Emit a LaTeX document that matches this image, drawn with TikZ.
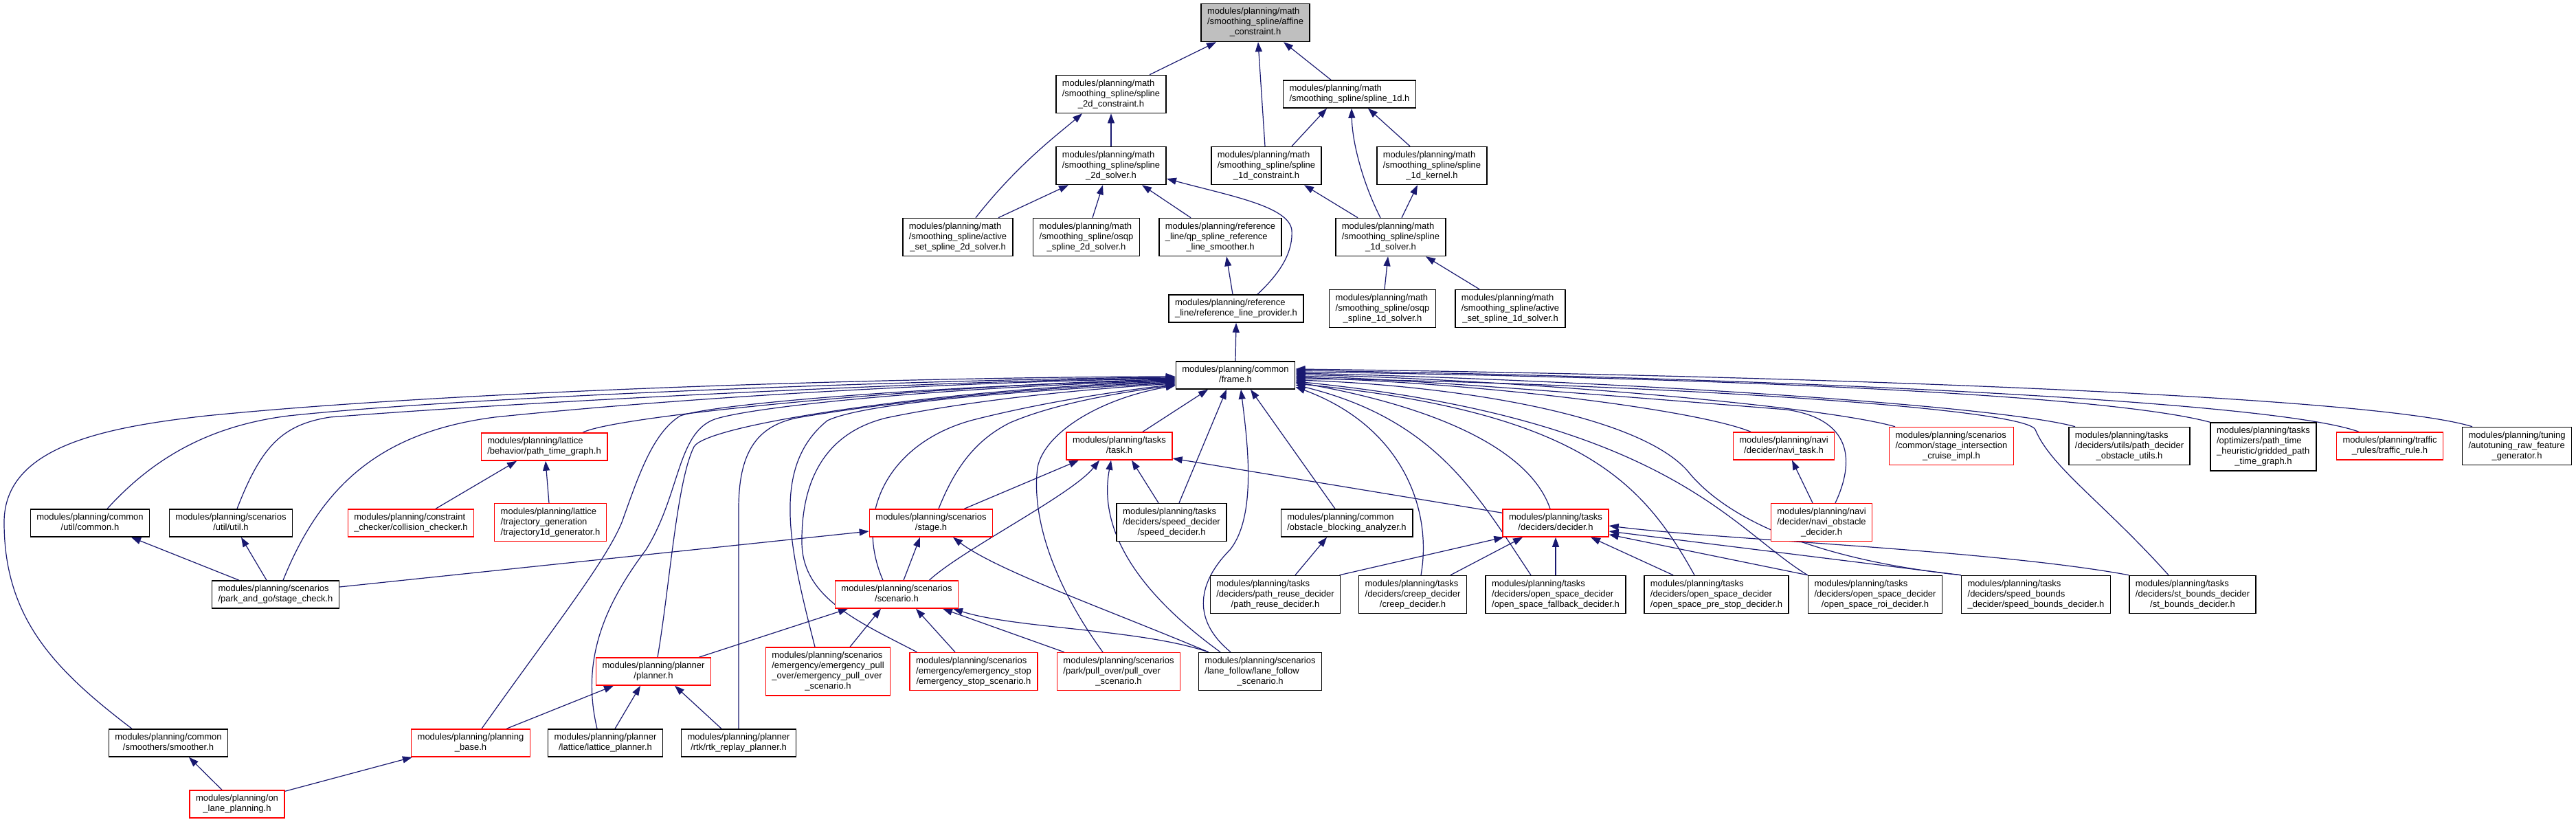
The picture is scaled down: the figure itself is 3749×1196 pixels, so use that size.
\documentclass[tikz,border=0pt]{standalone}
\usepackage{fontspec}
\setmainfont{Liberation Sans}
\usetikzlibrary{arrows.meta,calc}
\definecolor{edgeblue}{RGB}{25,25,112}
\definecolor{affgray}{RGB}{191,191,191}
\definecolor{nodered}{RGB}{255,0,0}
\newcommand{\dlabel}[2]{\begin{tabular}{@{}l@{}}#1\\\multicolumn{1}{@{}c@{}}{#2}\end{tabular}}
\pgfdeclarelayer{background}
\pgfsetlayers{background,main}
\tikzset{
  dbox/.style={draw=black, line width=1.5pt, fill=white, rectangle, inner xsep=9pt, inner ysep=5pt, font=\fontsize{13}{15}\selectfont, text=black},
  rbox/.style={dbox, draw=nodered},
  dep/.style={draw=edgeblue, line width=1.2pt, -{Triangle[length=14pt,width=10pt]}}
}
\begin{document}
\begin{tikzpicture}[x=1pt,y=-1pt]
\useasboundingbox (0,0) rectangle (3749,1196);
% nodes
\node[dbox,fill=affgray] (aff) at (1827,33) {\dlabel{modules/planning/math\\/smoothing\_spline/affine}{\_constraint.h}};
\node[dbox] (c2d) at (1617,137) {\dlabel{modules/planning/math\\/smoothing\_spline/spline}{\_2d\_constraint.h}};
\node[dbox] (s1d) at (1964,137) {\dlabel{modules/planning/math}{/smoothing\_spline/spline\_1d.h}};
\node[dbox] (s2d) at (1617,241) {\dlabel{modules/planning/math\\/smoothing\_spline/spline}{\_2d\_solver.h}};
\node[dbox] (c1d) at (1843,241) {\dlabel{modules/planning/math\\/smoothing\_spline/spline}{\_1d\_constraint.h}};
\node[dbox] (k1d) at (2084,241) {\dlabel{modules/planning/math\\/smoothing\_spline/spline}{\_1d\_kernel.h}};
\node[dbox] (as2d) at (1394,345) {\dlabel{modules/planning/math\\/smoothing\_spline/active}{\_set\_spline\_2d\_solver.h}};
\node[dbox] (os2d) at (1581,345) {\dlabel{modules/planning/math\\/smoothing\_spline/osqp}{\_spline\_2d\_solver.h}};
\node[dbox] (qpr) at (1776,345) {\dlabel{modules/planning/reference\\\_line/qp\_spline\_reference}{\_line\_smoother.h}};
\node[dbox] (sol1d) at (2024,345) {\dlabel{modules/planning/math\\/smoothing\_spline/spline}{\_1d\_solver.h}};
\node[dbox] (rlp) at (1799,449) {\dlabel{modules/planning/reference}{\_line/reference\_line\_provider.h}};
\node[dbox] (os1d) at (2012,449) {\dlabel{modules/planning/math\\/smoothing\_spline/osqp}{\_spline\_1d\_solver.h}};
\node[dbox] (as1d) at (2198,449) {\dlabel{modules/planning/math\\/smoothing\_spline/active}{\_set\_spline\_1d\_solver.h}};
\node[dbox] (frame) at (1798,546) {\dlabel{modules/planning/common}{/frame.h}};
% row 649
\node[rbox] (ptg) at (792,650) {\dlabel{modules/planning/lattice}{/behavior/path\_time\_graph.h}};
\node[rbox] (task) at (1629,649) {\dlabel{modules/planning/tasks}{/task.h}};
\node[rbox] (navt) at (2596,649) {\dlabel{modules/planning/navi}{/decider/navi\_task.h}};
\node[rbox] (sic) at (2840,649) {\dlabel{modules/planning/scenarios\\/common/stage\_intersection}{\_cruise\_impl.h}};
\node[dbox] (pdo) at (3099,649) {\dlabel{modules/planning/tasks\\/deciders/utils/path\_decider}{\_obstacle\_utils.h}};
\node[dbox] (grid) at (3294,650) {\dlabel{modules/planning/tasks\\/optimizers/path\_time\\\_heuristic/gridded\_path}{\_time\_graph.h}};
\node[rbox] (trr) at (3478,649) {\dlabel{modules/planning/traffic}{\_rules/traffic\_rule.h}};
\node[dbox] (atun) at (3663,649) {\dlabel{modules/planning/tuning\\/autotuning\_raw\_feature}{\_generator.h}};
% row 761
\node[dbox] (cmn) at (131,761) {\dlabel{modules/planning/common}{/util/common.h}};
\node[dbox] (utl) at (336,761) {\dlabel{modules/planning/scenarios}{/util/util.h}};
\node[rbox] (cc) at (598,761) {\dlabel{modules/planning/constraint}{\_checker/collision\_checker.h}};
\node[rbox] (t1d) at (801,760) {\dlabel{modules/planning/lattice\\/trajectory\_generation}{/trajectory1d\_generator.h}};
\node[rbox] (stg) at (1355,761) {\dlabel{modules/planning/scenarios}{/stage.h}};
\node[dbox] (spd) at (1705,760) {\dlabel{modules/planning/tasks\\/deciders/speed\_decider}{/speed\_decider.h}};
\node[dbox] (oba) at (1960,761) {\dlabel{modules/planning/common}{/obstacle\_blocking\_analyzer.h}};
\node[rbox] (dec) at (2264,761) {\dlabel{modules/planning/tasks}{/deciders/decider.h}};
\node[rbox] (navo) at (2651,760) {\dlabel{modules/planning/navi\\/decider/navi\_obstacle}{\_decider.h}};
% row 865
\node[dbox] (stc) at (401,865) {\dlabel{modules/planning/scenarios}{/park\_and\_go/stage\_check.h}};
\node[rbox] (scn) at (1305,865) {\dlabel{modules/planning/scenarios}{/scenario.h}};
\node[dbox] (pru) at (1856,865) {\dlabel{modules/planning/tasks\\/deciders/path\_reuse\_decider}{/path\_reuse\_decider.h}};
\node[dbox] (crp) at (2056,865) {\dlabel{modules/planning/tasks\\/deciders/creep\_decider}{/creep\_decider.h}};
\node[dbox] (osf) at (2264,865) {\dlabel{modules/planning/tasks\\/deciders/open\_space\_decider}{/open\_space\_fallback\_decider.h}};
\node[dbox] (osp) at (2498,865) {\dlabel{modules/planning/tasks\\/deciders/open\_space\_decider}{/open\_space\_pre\_stop\_decider.h}};
\node[dbox] (osr) at (2729,865) {\dlabel{modules/planning/tasks\\/deciders/open\_space\_decider}{/open\_space\_roi\_decider.h}};
\node[dbox] (sbd) at (2963,865) {\dlabel{modules/planning/tasks\\/deciders/speed\_bounds}{\_decider/speed\_bounds\_decider.h}};
\node[dbox] (stb) at (3191,865) {\dlabel{modules/planning/tasks\\/deciders/st\_bounds\_decider}{/st\_bounds\_decider.h}};
% row 977
\node[rbox] (pln) at (951,977) {\dlabel{modules/planning/planner}{/planner.h}};
\node[rbox] (epo) at (1205,977) {\dlabel{modules/planning/scenarios\\/emergency/emergency\_pull\\\_over/emergency\_pull\_over}{\_scenario.h}};
\node[rbox] (est) at (1417,977) {\dlabel{modules/planning/scenarios\\/emergency/emergency\_stop}{/emergency\_stop\_scenario.h}};
\node[rbox] (pov) at (1628,977) {\dlabel{modules/planning/scenarios\\/park/pull\_over/pull\_over}{\_scenario.h}};
\node[dbox] (lf) at (1834,977) {\dlabel{modules/planning/scenarios\\/lane\_follow/lane\_follow}{\_scenario.h}};
% row 1081
\node[dbox] (smo) at (245,1081) {\dlabel{modules/planning/common}{/smoothers/smoother.h}};
\node[rbox] (pb) at (685,1081) {\dlabel{modules/planning/planning}{\_base.h}};
\node[dbox] (lp) at (881,1081) {\dlabel{modules/planning/planner}{/lattice/lattice\_planner.h}};
\node[dbox] (rtk) at (1075,1081) {\dlabel{modules/planning/planner}{/rtk/rtk\_replay\_planner.h}};
\node[rbox] (olp) at (345,1170) {\dlabel{modules/planning/on}{\_lane\_planning.h}};

\begin{pgfonlayer}{background}
\fill[white] (0,0) rectangle (3749,1196);
% affine
\draw[dep] ($(c2d.north)+(56,0)$) -- ($(aff.south)+(-57,0)$);
\draw[dep] ($(c1d.north)+(-2,0)$) -- ($(aff.south)+(4,0)$);
\draw[dep] ($(s1d.north)+(-27,0)$) -- ($(aff.south)+(41,0)$);
% c2d
\draw[dep] (s2d.north) -- (c2d.south);
\draw[dep] ($(as2d.north)+(26,0)$) .. controls (1480,240) and (1540,195) .. ($(c2d.south)+(-42,0)$);
% s2d
\draw[dep] ($(as2d.north)+(59,0)$) -- ($(s2d.south)+(-62,0)$);
\draw[dep] ($(os2d.north)+(9,0)$) -- ($(s2d.south)+(-12,0)$);
\draw[dep] ($(qpr.north)+(-43,0)$) -- ($(s2d.south)+(45,0)$);
\draw[dep] ($(rlp.north)+(31,0)$) .. controls (1860,400) and (1882,370) .. (1880,335) .. controls (1876,300) and (1790,285) .. ($(s2d.east)+(0,19)$);
% s1d
\draw[dep] ($(c1d.north)+(37,0)$) -- ($(s1d.south)+(-33,0)$);
\draw[dep] ($(sol1d.north)+(-15,0)$) .. controls (1985,270) and (1968,210) .. ($(s1d.south)+(3,0)$);
\draw[dep] ($(k1d.north)+(-32,0)$) -- ($(s1d.south)+(27,0)$);
\draw[dep] ($(sol1d.north)+(-48,0)$) -- ($(c1d.south)+(55,0)$);
\draw[dep] ($(sol1d.north)+(16,0)$) -- ($(k1d.south)+(-21,0)$);
\draw[dep] ($(os1d.north)+(3,0)$) -- ($(sol1d.south)+(-4,0)$);
\draw[dep] ($(as1d.north)+(-45,0)$) -- ($(sol1d.south)+(51,0)$);
\draw[dep] ($(rlp.north)+(-5,0)$) -- ($(qpr.south)+(9,0)$);
\draw[dep] (frame.north) -- (rlp.south);
% frame, left side
\draw[dep] ($(smo.north)+(-53,0)$) .. controls (80,975) and (6,900) .. (6,760) .. controls (6,650) and (150,622) .. (300,605) .. controls (700,565) and (1400,548) .. ($(frame.west)+(0,2)$);
\draw[dep] ($(cmn.north)+(25,0)$) .. controls (220,670) and (300,620) .. (420,605) .. controls (700,575) and (1400,551) .. ($(frame.west)+(0,3)$);
\draw[dep] ($(utl.north)+(9,0)$) .. controls (380,650) and (410,618) .. (480,607) .. controls (800,582) and (1400,553) .. ($(frame.west)+(0,4)$);
\draw[dep] ($(stc.north)+(11,0)$) .. controls (470,700) and (560,628) .. (720,607) .. controls (1000,578) and (1400,555) .. ($(frame.west)+(0,5)$);
\draw[dep] ($(ptg.north)+(56,0)$) .. controls (900,603) and (1400,558) .. ($(frame.west)+(0,6)$);
\draw[dep] ($(pb.north)+(16,0)$) .. controls (800,920) and (880,820) .. (905,760) .. controls (930,690) and (950,630) .. (990,605) .. controls (1050,585) and (1400,560) .. ($(frame.west)+(0,7)$);
\draw[dep] ($(lp.north)+(-12,0)$) .. controls (845,960) and (880,880) .. (940,800) .. controls (990,720) and (985,630) .. (1040,610) .. controls (1100,590) and (1400,562) .. ($(frame.west)+(0,8)$);
\draw[dep] ($(pln.north)+(6,0)$) .. controls (975,850) and (985,700) .. (1010,650) .. controls (1030,615) and (1400,564) .. ($(frame.west)+(0,9)$);
\draw[dep] (rtk.north) -- (1075,740) .. controls (1075,660) and (1100,620) .. (1160,608) .. controls (1250,592) and (1450,566) .. ($(frame.west)+(0,10)$);
\draw[dep] ($(epo.north)+(-19,0)$) .. controls (1150,800) and (1120,680) .. (1204,612) .. controls (1260,585) and (1500,568) .. ($(frame.west)+(0,11)$);
\draw[dep] ($(est.north west)+(11,0)$) .. controls (1250,905) and (1168,870) .. (1167,790) .. controls (1166,700) and (1200,630) .. (1290,608) .. controls (1400,585) and (1550,568) .. ($(frame.west)+(0,12)$);
\draw[dep] ($(scn.north)+(-20,0)$) .. controls (1240,740) and (1300,640) .. (1420,610) .. controls (1520,585) and (1620,570) .. ($(frame.west)+(0,13)$);
\draw[dep] ($(stg.north)+(11,0)$) .. controls (1390,680) and (1420,640) .. (1470,615) .. controls (1540,585) and (1640,570) .. ($(frame.west)+(0,14)$);
\draw[dep] ($(pov.north)+(-23,0)$) .. controls (1540,860) and (1500,760) .. (1510,680) .. controls (1520,630) and (1600,580) .. ($(frame.west)+(0,15)$);
% frame, bottom
\draw[dep] ($(task.north)+(34,0)$) -- ($(frame.south)+(-40,0)$);
\draw[dep] ($(spd.north)+(11,0)$) -- ($(frame.south)+(-13,0)$);
\draw[dep] ($(lf.north)+(-43,0)$) .. controls (1720,890) and (1760,830) .. (1790,800) .. controls (1830,750) and (1815,640) .. ($(frame.south)+(8,0)$);
\draw[dep] ($(oba.north)+(-17,0)$) -- ($(frame.south)+(22,0)$);
% frame, right side
\draw[dep] ($(dec.north)+(-8,0)$) .. controls (2225,650) and (2080,590) .. ($(frame.east)+(0,10)$);
\draw[dep] ($(crp.north)+(12,0)$) .. controls (2085,740) and (2040,620) .. ($(frame.east)+(0,17)$);
\draw[dep] ($(osf.north)+(-36,0)$) .. controls (2150,720) and (2090,610) .. ($(frame.east)+(0,14)$);
\draw[dep] ($(osp.north)+(-32,0)$) .. controls (2390,700) and (2300,600) .. ($(frame.east)+(0,12)$);
\draw[dep] (osr.north west) .. controls (2520,770) and (2430,610) .. ($(frame.east)+(0,9)$);
\draw[dep] (sbd.north west) .. controls (2650,815) and (2520,760) .. (2460,690) .. controls (2390,600) and (2100,560) .. ($(frame.east)+(0,7)$);
\draw[dep] ($(stb.north)+(-35,0)$) .. controls (3060,730) and (2985,680) .. (2962,625) .. controls (2945,590) and (2300,555) .. ($(frame.east)+(0,5)$);
\draw[dep] ($(navt.north)+(-48,0)$) .. controls (2480,600) and (2200,560) .. ($(frame.east)+(0,3)$);
\draw[dep] ($(navo.north)+(20,0)$) .. controls (2700,670) and (2695,610) .. (2600,596) .. controls (2300,572) and (2050,552) .. ($(frame.east)+(0,1)$);
\draw[dep] ($(sic.north)+(-82,0)$) .. controls (2650,590) and (2200,552) .. ($(frame.east)+(0,-1)$);
\draw[dep] ($(pdo.north)+(-79,0)$) .. controls (2900,588) and (2300,552) .. ($(frame.east)+(0,-3)$);
\draw[dep] (grid.north west) .. controls (3050,570) and (2400,548) .. ($(frame.east)+(0,-5)$);
\draw[dep] ($(trr.north)+(-45,0)$) .. controls (3300,580) and (2500,548) .. ($(frame.east)+(0,-7)$);
\draw[dep] ($(atun.north)+(-65,0)$) .. controls (3450,575) and (2600,546) .. ($(frame.east)+(0,-9)$);
% decider
\draw[dep] ($(dec.north west)+(0,6)$) -- ($(task.east)+(0,18)$);
\draw[dep] ($(pru.north east)+(-2,0)$) -- ($(dec.south west)+(2,0)$);
\draw[dep] ($(crp.north)+(55,0)$) -- ($(dec.south)+(-48,0)$);
\draw[dep] (osf.north) -- (dec.south);
\draw[dep] ($(osp.north)+(-63,0)$) -- ($(dec.south)+(51,0)$);
\draw[dep] (osr.north west) -- ($(dec.south east)+(0,-4)$);
\draw[dep] (sbd.north west) -- ($(dec.east)+(0,12)$);
\draw[dep] (stb.north west) .. controls (2900,800) and (2500,785) .. ($(dec.east)+(0,4)$);
% task
\draw[dep] ($(stg.north east)+(-42,0)$) -- ($(task.south)+(-59,0)$);
\draw[dep] ($(scn.north east)+(-43,0)$) .. controls (1400,800) and (1560,720) .. ($(task.south)+(-29,0)$);
\draw[dep] ($(spd.north)+(-19,0)$) -- ($(task.south)+(18,0)$);
\draw[dep] ($(lf.north)+(-58,0)$) .. controls (1640,850) and (1600,760) .. ($(task.south)+(-12,0)$);
% stage
\draw[dep] ($(stc.east)+(0,-11)$) -- ($(stg.west)+(0,12)$);
\draw[dep] ($(scn.north)+(10,0)$) -- ($(stg.south)+(-16,0)$);
\draw[dep] ($(lf.north west)+(15,0)$) .. controls (1620,890) and (1450,830) .. ($(stg.south)+(32,0)$);
% scenario
\draw[dep] ($(pln.north east)+(-18,0)$) -- ($(scn.south)+(-71,0)$);
\draw[dep] ($(epo.north)+(32,0)$) -- ($(scn.south)+(-23,0)$);
\draw[dep] ($(est.north)+(-27,0)$) -- ($(scn.south)+(28,0)$);
\draw[dep] ($(pov.north west)+(11,0)$) -- ($(scn.south)+(67,0)$);
\draw[dep] ($(lf.north west)+(15,0)$) .. controls (1660,915) and (1480,915) .. ($(scn.south)+(82,0)$);
% planner
\draw[dep] ($(pb.north east)+(-35,0)$) -- ($(pln.south)+(-58,0)$);
\draw[dep] ($(lp.north)+(14,0)$) -- ($(pln.south)+(-19,0)$);
\draw[dep] ($(rtk.north)+(-25,0)$) -- ($(pln.south)+(31,0)$);
% on lane planning
\draw[dep] ($(olp.north)+(-22,0)$) -- ($(smo.south)+(30,0)$);
\draw[dep] ($(olp.north east)+(0,2)$) -- ($(pb.south west)+(2,0)$);
% path time graph
\draw[dep] ($(cc.north)+(36,0)$) -- ($(ptg.south)+(-40,0)$);
\draw[dep] ($(t1d.north)+(-2,0)$) -- ($(ptg.south)+(2,0)$);
% common / util
\draw[dep] ($(stc.north)+(-53,0)$) -- ($(cmn.south)+(60,0)$);
\draw[dep] ($(stc.north)+(-13,0)$) -- ($(utl.south)+(15,0)$);
% navi
\draw[dep] ($(navo.north)+(-13,0)$) -- ($(navt.south)+(12,0)$);
% obstacle blocking
\draw[dep] ($(pru.north)+(29,0)$) -- ($(oba.south)+(-29,0)$);
\end{pgfonlayer}
\end{tikzpicture}
\end{document}
